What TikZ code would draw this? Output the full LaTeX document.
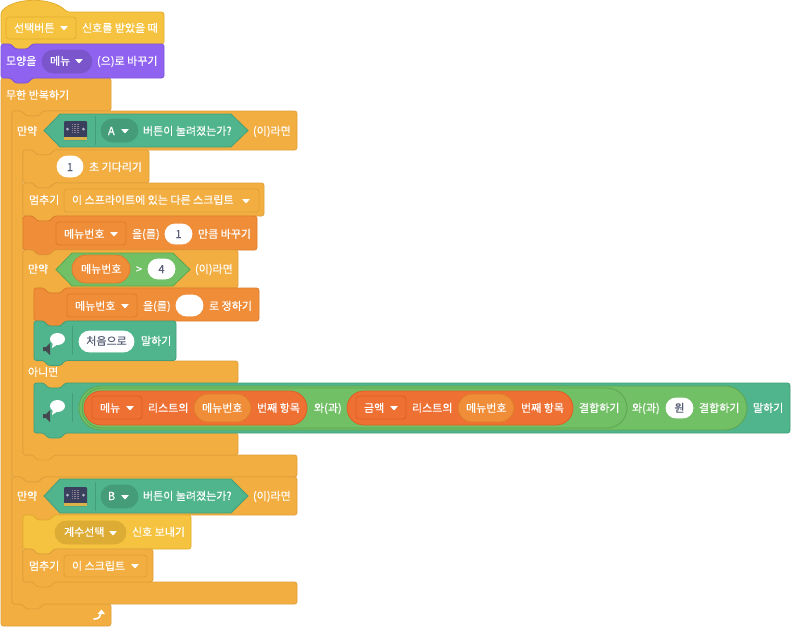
\documentclass[tikz,border=0pt]{standalone}
\usepackage{fontspec}
\setmainfont[FakeBold=0.4]{Noto Sans CJK KR}
\definecolor{ctl}{HTML}{F3AE41}\definecolor{ctlS}{HTML}{DFA03A}
\definecolor{evt}{HTML}{F5C33F}\definecolor{evtS}{HTML}{E3AE2E}\definecolor{evtD}{HTML}{DDAC35}
\definecolor{lok}{HTML}{8F63F0}\definecolor{lokS}{HTML}{7C52DC}\definecolor{lokD}{HTML}{7A55CC}
\definecolor{var}{HTML}{EF8D38}\definecolor{varS}{HTML}{DE7C2C}
\definecolor{lst}{HTML}{EE7033}\definecolor{lstS}{HTML}{DD5F26}
\definecolor{opr}{HTML}{72C066}\definecolor{oprS}{HTML}{5BA650}
\definecolor{ext}{HTML}{50B58D}\definecolor{extS}{HTML}{429F7A}\definecolor{extD}{HTML}{459C79}
\definecolor{ink}{HTML}{575E75}
\definecolor{mbody}{HTML}{3A3F5E}\definecolor{mgold}{HTML}{D9B24A}\definecolor{mled}{HTML}{8A7F8F}\definecolor{mpad}{HTML}{B5B8C6}
\definecolor{spk}{HTML}{44484F}
\newcount\lblno
\tikzset{
  blockshape/.style={line width=0.8pt,rounded corners=2.5pt,line join=round},
  fieldshape/.style={line width=0.8pt,rounded corners=3pt},
  labeltext/.style={anchor=base west,inner sep=0pt,outer sep=0pt,font=\fontsize{11}{13}\selectfont,text=white},
  inputtext/.style={labeltext,text=ink}
}
\newcommand{\T}[3]{\global\advance\lblno by 1\node[labeltext] (lbl\the\lblno) at (#1,#2+4) {#3};}
\newcommand{\Dk}[3]{\global\advance\lblno by 1\node[inputtext,anchor=base] (lbl\the\lblno) at (#1,#2+4) {#3};}
% stack block: x y w h colour
\newcommand{\stackblock}[5]{\draw[blockshape,fill=#5,draw=#5S]
 (#1,#2)--({#1+10},#2)--({#1+14},{#2+5})--({#1+27},{#2+5})--({#1+31},#2)--({#1+#3},#2)--({#1+#3},{#2+#4})
 --({#1+31},{#2+#4})--({#1+27},{#2+#4+5})--({#1+14},{#2+#4+5})--({#1+10},{#2+#4})--(#1,{#2+#4})--cycle;}
% C block: x y w y1 y2 y3
\newcommand{\cblock}[6]{\draw[blockshape,fill=ctl,draw=ctlS]
 (#1,#2)--({#1+10},#2)--({#1+14},{#2+5})--({#1+27},{#2+5})--({#1+31},#2)--({#1+#3},#2)--({#1+#3},#4)
 --({#1+42},#4)--({#1+38},{#4+5})--({#1+25},{#4+5})--({#1+21},#4)--({#1+11},#4)--({#1+11},#5)
 --({#1+#3},#5)--({#1+#3},#6)--({#1+31},#6)--({#1+27},{#6+5})--({#1+14},{#6+5})--({#1+10},#6)--(#1,#6)--cycle;}
\newcommand{\ddown}[6]{\draw[fieldshape,fill=#5,draw=#6] (#1,#2) rectangle (#3,#4);}
\newcommand{\pill}[6]{\pgfmathsetmacro{\rr}{(#4-#2)/2-0.01}\draw[line width=0.8pt,rounded corners=\rr pt,fill=#5,draw=#6] (#1,#2) rectangle (#3,#4);}
\newcommand{\tri}[2]{\fill[white,rounded corners=0.6pt] ({#1-4},{#2-2})--({#1+4},{#2-2})--(#1,{#2+2.6})--cycle;}
\newcommand{\hexa}[6]{\draw[line width=0.8pt,fill=#5,draw=#6] (#1,{(#2+#4)/2})--({#1+16},#2)--({#3-17},#2)--(#3,{(#2+#4)/2})--({#3-17},#4)--({#1+16},#4)--cycle;}
\newcommand{\microbit}[2]{%
 \fill[rounded corners=1pt,fill=mbody] (#1,#2) rectangle ({#1+23},{#2+19});
 \fill[fill=mgold] (#1,{#2+15.5}) rectangle ({#1+23},{#2+19});
 \foreach \i in {0,...,4}{\foreach \j in {0,...,4}{\fill[mled] ({#1+8+1.6*\i},{#2+3+1.9*\j}) rectangle ({#1+8.9+1.6*\i},{#2+3.9+1.9*\j});}}
 \fill[mpad] ({#1+3.5},{#2+8}) circle (1.5);
 \fill[mpad] ({#1+19.5},{#2+8}) circle (1.5);}
\newcommand{\saysym}[2]{%
 \fill[white] ({#1+11.5},{#2-1}) ellipse (7.5 and 6);
 \fill[white] ({#1+7},{#2+2})--({#1+6},{#2+8})--({#1+12},{#2+4})--cycle;
 \fill[spk] ({#1-3},{#2+7})--({#1},{#2+7})--({#1+4},{#2+3})--({#1+4},{#2+15})--({#1},{#2+11})--({#1-3},{#2+11})--cycle;
 \draw[extS,line width=0.8pt] ({#1+26},{#2-14})--({#1+26},{#2+15});}
\begin{document}
\begin{tikzpicture}[x=1pt,y=-1pt]
\useasboundingbox (0,0) rectangle (791,627);
\fill[white] (0,0) rectangle (791,627);

% forever
\draw[blockshape,fill=ctl,draw=ctlS]
 (1,78)--(11,78)--(15,83)--(28,83)--(32,78)--(111,78)--(111,111)--(43,111)--(39,116)--(26,116)--(22,111)--(12,111)--(12,604)
 --(111,604)--(111,626)--(1,626)--cycle;
\T{6}{95}{무한 반복하기}
\draw[white,line width=1.6pt,line cap=round] (94,619) .. controls (99,619) and (101,616) .. (101,613);
\fill[white] (97.5,614)--(101.5,609.5)--(105,614)--cycle;

% hat
\draw[blockshape,fill=evt,draw=evtS]
 (1,12) .. controls (15,-3) and (52,-3) .. (67,12)--(164,12)--(164,44)--(32,44)--(28,49)--(15,49)--(11,44)--(1,44)--cycle;
\ddown{6}{17}{76}{39}{evt}{evtS}{}
\T{14}{28}{선택버튼}\tri{64}{28}
\T{82}{28}{신호를 받았을 때}

% looks
\stackblock{1}{44}{163}{34}{lok}
\pill{42}{50}{92}{73}{lokD}{lokD}
\T{6}{61}{모양을}\T{50}{61}{메뉴}\tri{79}{61}
\T{97}{61}{(으)로 바꾸기}

% if A
\cblock{12}{111}{285}{150}{455}{477}
\T{17}{131}{만약}
\hexa{44}{114}{248}{147}{ext}{extS}
\microbit{64}{121}
\draw[extS,line width=0.8pt] (95,116)--(95,145);
\pill{101}{119}{138}{142}{extD}{extD}
\T{108}{131}{A}\tri{125}{131}
\T{143}{131}{버튼이 눌려졌는가?}
\T{253}{131}{(이)라면}

% wait
\stackblock{23}{150}{126}{33}{ctl}
\pill{57}{156}{83}{177}{white}{white}
\Dk{70}{167}{1}
\T{89}{167}{초 기다리기}

% stop other
\stackblock{23}{183}{241}{33}{ctl}
\ddown{64}{189}{259}{212}{ctl}{ctlS}{}
\T{29}{200}{멈추기}
\T{72}{200}{이 스프라이트에 있는 다른 스크립트}\tri{246}{201}

% change var
\stackblock{23}{216}{234}{34}{var}
\ddown{56}{222}{126}{245}{var}{varS}{}
\T{64}{234}{메뉴번호}\tri{114}{234}
\T{132}{234}{을(를)}
\pill{165}{224}{192}{244}{white}{white}
\Dk{178.5}{234}{1}
\T{198}{234}{만큼 바꾸기}

% if-else
\draw[blockshape,fill=ctl,draw=ctlS]
 (23,250)--(33,250)--(37,255)--(50,255)--(54,250)--(238,250)--(238,288)--(65,288)--(61,293)--(48,293)--(44,288)--(34,288)--(34,361)
 --(238,361)--(238,383)--(65,383)--(61,388)--(48,388)--(44,383)--(34,383)--(34,433)--(238,433)--(238,455)
 --(54,455)--(50,460)--(37,460)--(33,455)--(23,455)--cycle;
\T{28}{269}{만약}
\hexa{56}{253}{190}{286}{opr}{oprS}
\pill{72}{255}{130}{283}{var}{varS}
\T{81}{269}{메뉴번호}
\T{136}{269}{>}
\pill{148}{259}{175}{279}{white}{white}
\Dk{161.5}{269}{4}
\T{195}{269}{(이)라면}
\T{28}{372}{아니면}

% set var
\stackblock{34}{288}{225}{33}{var}
\ddown{67}{294}{137}{317}{var}{varS}{}
\T{75}{306}{메뉴번호}\tri{125}{306}
\T{143}{306}{을(를)}
\pill{176}{295}{203}{316}{white}{white}
\T{209}{306}{로 정하기}

% say first
\stackblock{34}{321}{142}{39.5}{ext}
\saysym{46}{340}
\pill{79}{331}{134}{352}{white}{white}
\Dk{106.5}{341}{처음으로}
\T{141}{341}{말하기}

% say long
\stackblock{34}{383}{756}{50}{ext}
\saysym{46}{407}
\pill{79}{386}{747}{430}{opr}{oprS}
\pill{82}{388}{627}{428}{opr}{oprS}
\pill{84}{391}{307}{425}{lst}{lstS}
\ddown{92}{396}{142}{419}{lst}{lstS}{}
\T{100}{408}{메뉴}\tri{130}{408}
\T{148}{408}{리스트의}
\pill{194}{394}{251}{422}{var}{varS}
\T{202}{408}{메뉴번호}
\T{257}{408}{번째 항목}
\T{314}{408}{와(과)}
\pill{347}{391}{573}{425}{lst}{lstS}
\ddown{356}{396}{406}{419}{lst}{lstS}{}
\T{364}{408}{금액}\tri{394}{408}
\T{412}{408}{리스트의}
\pill{458}{394}{514}{422}{var}{varS}
\T{466}{408}{메뉴번호}
\T{521}{408}{번째 항목}
\T{579}{408}{결합하기}
\T{632}{408}{와(과)}
\pill{666}{398}{693}{418}{white}{white}
\Dk{679.5}{408}{원}
\T{699}{408}{결합하기}
\T{753}{408}{말하기}

% if B
\cblock{12}{477}{285}{515}{582}{604}
\T{17}{496}{만약}
\hexa{44}{479}{248}{513}{ext}{extS}
\microbit{64}{487}
\draw[extS,line width=0.8pt] (95,482)--(95,511);
\pill{101}{485}{138}{508}{extD}{extD}
\T{108}{496}{B}\tri{125}{497}
\T{143}{496}{버튼이 눌려졌는가?}
\T{253}{496}{(이)라면}

% broadcast
\stackblock{23}{515}{168}{34}{evt}
\pill{55}{521}{126}{544}{evtD}{evtD}
\T{64}{532}{계수선택}\tri{113}{533}
\T{132}{532}{신호 보내기}

% stop this
\stackblock{23}{549}{130}{33}{ctl}
\ddown{64}{555}{147}{577}{ctl}{ctlS}{}
\T{29}{566}{멈추기}
\T{72}{566}{이 스크립트}\tri{135}{566}
\end{tikzpicture}
\end{document}
